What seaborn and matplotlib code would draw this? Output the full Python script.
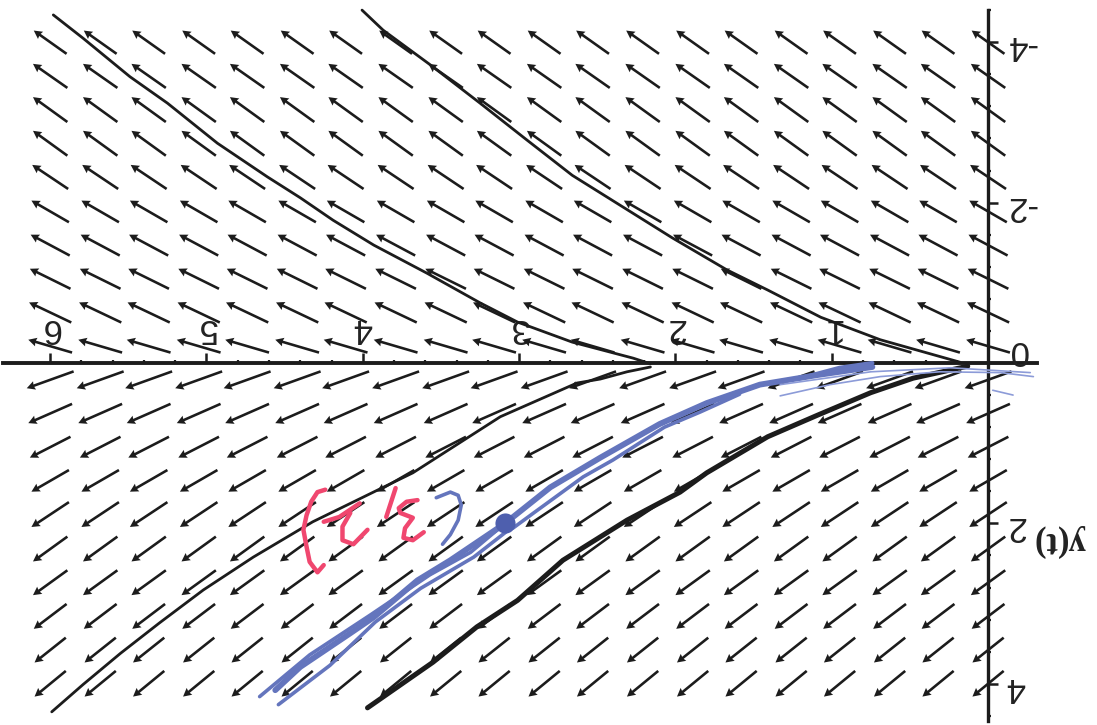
import numpy as np
import pandas as pd
import seaborn as sns
import matplotlib.pyplot as plt

# arrow grid
t_grid = [0, 0.32, 0.63, 0.95, 1.26, 1.58, 1.89, 2.21, 2.53, 2.84, 3.16, 3.47, 3.79, 4.11, 4.42, 4.74, 5.05, 5.37, 5.68, 6.0]
y_grid = [-4, -3.58, -3.16, -2.74, -2.32, -1.89, -1.47, -1.05, -0.63, -0.21, 0.21, 0.63, 1.05, 1.47, 1.89, 2.32, 2.74, 3.16, 3.58, 4]
row_u = [.21, .22, .22, .22, .23, .24, .25, .26, .27, .28, .30, .28, .26, .24, .24, .22, .22, .21, .20, .20]
row_v = [-.29, -.30, -.31, -.31, -.30, -.27, -.26, -.25, -.25, -.16, .21, .24, .26, .27, .31, .31, .31, .31, .31, .32]

# printed solution curves
curve_a = ([4.005, 3.87, 3.57, 3.25, 2.95, 2.66, 2.34, 2.02, 1.67, 1.41, 1.07, 0.69, 0.18],
           [-4.40, -4.15, -3.72, -3.24, -2.78, -2.34, -1.95, -1.56, -1.16, -0.91, -0.57, -0.29, -0.01])
curve_b = ([5.98, 5.79, 5.49, 5.25, 4.93, 4.61, 4.40, 4.19, 3.93, 3.59, 3.25, 3.01, 2.66, 2.27, 2.16],
           [-4.34, -4.05, -3.57, -3.24, -2.74, -2.32, -2.06, -1.78, -1.47, -1.12, -0.75, -0.51, -0.26, -0.06, 0.01])
curve_c = ([2.16, 2.31, 2.48, 2.63, 2.91, 3.12, 3.68, 4.32, 4.70, 5.02, 5.30, 5.55, 5.79, 5.99],
           [0.05, 0.11, 0.20, 0.25, 0.49, 0.67, 1.37, 1.98, 2.42, 2.83, 3.24, 3.62, 4.01, 4.35])
curve_d = ([3.97, 3.55, 3.27, 3.01, 2.72, 2.31, 1.97, 1.80, 1.41, 1.09, 0.75, 0.48, 0.13],
           [4.30, 3.73, 3.29, 2.96, 2.46, 1.96, 1.61, 1.37, 0.92, 0.65, 0.37, 0.19, 0.04])

# hand drawn blue strokes
blue_main = ([4.56, 4.40, 4.08, 3.93, 3.65, 3.44, 3.09, 2.80, 2.48, 2.10, 1.80, 1.46, 1.09, 0.74],
             [4.08, 3.79, 3.37, 3.17, 2.71, 2.46, 2.00, 1.55, 1.18, 0.76, 0.50, 0.27, 0.15, 0.05])
blue_2 = ([4.66, 4.34, 3.95, 3.57, 3.31, 3.09], [4.16, 3.64, 3.14, 2.64, 2.36, 2.00])
blue_3 = ([4.54, 4.21, 3.92, 3.63, 3.29, 3.04], [4.26, 3.77, 3.23, 2.81, 2.42, 2.04])
blue_4 = ([3.04, 2.90, 2.59, 2.40, 2.07, 1.84, 1.59], [2.06, 1.86, 1.42, 1.21, 0.80, 0.61, 0.39])
blue_5 = ([1.33, 1.01, 0.69, 0.31, -0.08, -0.29], [0.41, 0.27, 0.17, 0.11, 0.12, 0.17])
blue_6 = ([1.33, 0.75, 0.24, -0.27], [0.27, 0.11, 0.06, 0.12])
blue_7 = ([1.20, 0.95, 0.74], [0.19, 0.06, 0.0])
blue_8 = ([-0.03, -0.16], [0.34, 0.40])
blue_arc = ([3.53, 3.44, 3.39, 3.37, 3.39, 3.44, 3.49], [1.68, 1.61, 1.65, 1.77, 1.96, 2.14, 2.26])
point_t = [3.09]
point_y = [2.0]

# hand written (3,2) in pink
pink_paren = ([4.24, 4.29, 4.33, 4.36, 4.38, 4.36, 4.34, 4.29, 4.25], [1.58, 1.61, 1.73, 1.90, 2.08, 2.29, 2.48, 2.61, 2.52])
pink_two_a = ([4.25, 4.15, 4.02], [1.98, 1.92, 1.75])
pink_two_b = ([4.08, 4.13, 4.13, 4.06, 3.97], [1.87, 2.04, 2.21, 2.26, 2.08])
pink_comma = ([3.79, 3.85], [1.56, 1.92])
pink_three = ([3.65, 3.72, 3.77, 3.76, 3.68, 3.73, 3.74, 3.68, 3.61], [1.71, 1.73, 1.81, 1.87, 1.93, 2.06, 2.18, 2.21, 2.11])

t_ticks = [1, 2, 3, 4, 5, 6]
y_ticks = [-4, -2, 2, 4]
y_labels = ["-4", "-2", "2", "4"]

sns.set_theme(style="white")
plt.rcParams["font.family"] = ["Liberation Sans", "DejaVu Sans"]

fig = plt.figure(figsize=(10.97, 7.25), dpi=100)
ax = fig.add_axes([0, 0, 1, 1])
ax.set_xlim(6.321, -0.697)
ax.set_ylim(4.514, -4.526)

grid_t, grid_y = np.meshgrid(t_grid, y_grid)
grid_u = np.tile(row_u, (len(t_grid), 1)).T
grid_v = np.tile(row_v, (len(t_grid), 1)).T
ax.quiver(grid_t, grid_y, grid_u, grid_v, angles="xy", scale_units="xy", scale=1, pivot="mid",
          units="dots", width=2.6, headwidth=3.4, headlength=3.2, headaxislength=2.9, color="#1c1c1c", zorder=2)


def stroke(points, color, lw):
    df = pd.DataFrame({"t": points[0], "y": points[1]})
    sns.lineplot(data=df, x="t", y="y", sort=False, estimator=None, color=color, linewidth=lw,
                 ax=ax, zorder=3, solid_capstyle="round")


for curve in [curve_a, curve_b, curve_c]:
    stroke(curve, "#1c1c1c", 2.0)
stroke(curve_d, "#1c1c1c", 3.6)

blue = "#6475BD"
stroke(blue_main, blue, 4.2)
stroke(blue_2, blue, 2.6)
stroke(blue_3, blue, 2.6)
stroke(blue_4, blue, 2.6)
stroke(blue_5, "#8C9BD8", 1.2)
stroke(blue_6, "#8C9BD8", 1.2)
stroke(blue_7, blue, 3.0)
stroke(blue_8, "#8C9BD8", 1.2)
stroke(blue_arc, blue, 2.6)
sns.scatterplot(x=point_t, y=point_y, color="#4E5FAE", s=210, linewidth=0, ax=ax, zorder=4)

pink = "#F0476F"
for s in [pink_paren, pink_two_a, pink_two_b, pink_comma, pink_three]:
    stroke(s, pink, 3.2)

# axes cross at the origin, everything is upside down
for side in ["left", "bottom"]:
    ax.spines[side].set_visible(False)
ax.spines["top"].set_position(("data", 0))
ax.spines["right"].set_position(("data", 0))
ax.spines["top"].set_bounds(-0.31, 6.30)
ax.spines["right"].set_bounds(-4.4, 4.46)
ax.spines["top"].set_linewidth(2.8)
ax.spines["right"].set_linewidth(2.4)
ax.spines["top"].set_color("#1c1c1c")
ax.spines["right"].set_color("#1c1c1c")

ax.set_xticks(t_ticks)
ax.set_xticks([v / 5 for v in range(1, 31) if v % 5 != 0], minor=True)
ax.set_yticks(y_ticks)
ax.set_yticklabels(y_labels)
ax.set_yticks([v * 0.4 for v in range(-11, 12) if v % 5 != 0], minor=True)
ax.tick_params(axis="x", which="both", top=True, bottom=False, labeltop=True, labelbottom=False, direction="out", color="#1c1c1c")
ax.tick_params(axis="y", which="both", right=True, left=False, labelright=True, labelleft=False, direction="out", color="#1c1c1c")
ax.tick_params(which="major", length=7, width=1.8, pad=6, labelsize=25, labelrotation=180, labelcolor="#222222")
ax.tick_params(which="minor", length=2.2, width=1.6)
ax.set_xlabel("")
ax.set_ylabel("")

ax.text(-0.19, -0.16, "0", rotation=180, fontsize=25, color="#222222", ha="center", va="center")
ax.text(-0.46, 2.21, "y(t)", rotation=180, fontsize=25, family="Liberation Serif", weight="bold", color="#222222", ha="center", va="center")

plt.savefig("out.png", dpi=100)
